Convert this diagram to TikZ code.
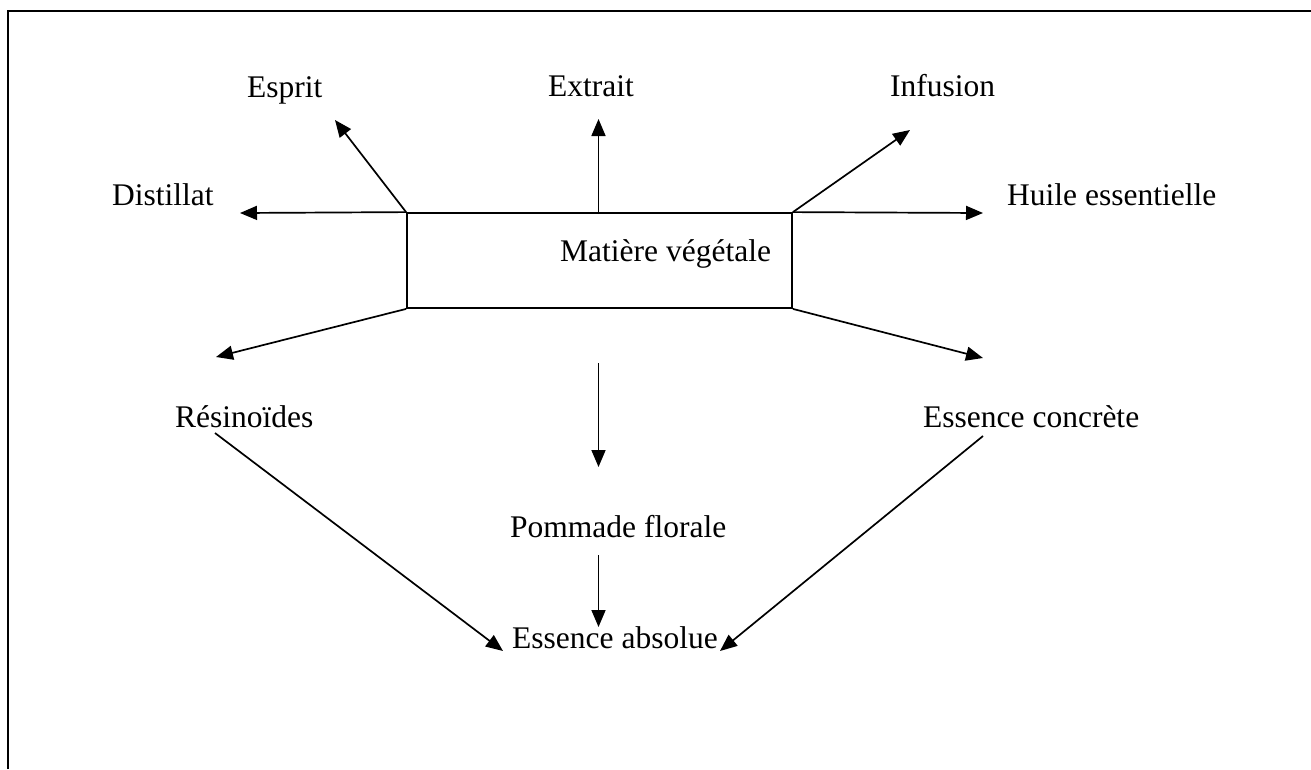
\documentclass[tikz,border=0pt]{standalone}
\usepackage{fontspec}
\setmainfont{Liberation Serif}
\usetikzlibrary{arrows.meta}
\begin{document}
\begin{tikzpicture}[x=1pt,y=-1pt,
  lbl/.style={anchor=base west,inner sep=0pt,font=\fontsize{31.5}{36}\selectfont},
  conn/.style={line width=1.7pt,-{Triangle[length=17pt,width=14pt]}},
  boxline/.style={line width=1.8pt}]
\useasboundingbox (0,0) rectangle (1311,769);
% frame
\draw[line width=2.6pt] (8,769) -- (8,11) -- (1311,11);
% central box
\node[boxline,draw,minimum width=385pt,minimum height=95pt,inner sep=0pt] (mat) at (599.5,260.5) {};
\node[lbl] (matlbl) at (560,261) {Matière végétale};
% labels
\node[lbl] (dist) at (112,205) {Distillat};
\node[lbl] (esp) at (247,97) {Esprit};
\node[lbl] (ext) at (548,96) {Extrait};
\node[lbl] (inf) at (890,96) {Infusion};
\node[lbl] (huile) at (1007,205) {Huile essentielle};
\node[lbl] (res) at (175,427) {Résinoïdes};
\node[lbl] (conc) at (923,427) {Essence concrète};
\node[lbl] (pom) at (510,537) {Pommade florale};
\node[lbl] (abs) at (512,648) {Essence absolue};
% coordinates
\coordinate (mtop) at (598.5,214);
\coordinate (tdist) at (240,213);
\coordinate (tesp) at (335,120);
\coordinate (text) at (598.5,119);
\coordinate (tinf) at (910,130);
\coordinate (thuile) at (983,213);
\coordinate (tres) at (216,357);
\coordinate (tconc) at (983,358);
\coordinate (spom) at (598.5,363);
\coordinate (tpom) at (598.5,467);
\coordinate (sabs) at (598.5,555);
\coordinate (tabs) at (598.5,627);
\coordinate (sres) at (215,433);
\coordinate (tabsl) at (503,651);
\coordinate (sconc) at (983,436);
\coordinate (tabsr) at (720,651);
% connectors
\draw[conn] (mat.north west) -- (tdist);
\draw[conn] (mat.north west) -- (tesp);
\draw[conn] (mtop) -- (text);
\draw[conn] (mat.north east) -- (tinf);
\draw[conn] (mat.north east) -- (thuile);
\draw[conn] (mat.south west) -- (tres);
\draw[conn] (mat.south east) -- (tconc);
\draw[conn] (spom) -- (tpom);
\draw[conn] (sabs) -- (tabs);
\draw[conn] (sres) -- (tabsl);
\draw[conn] (sconc) -- (tabsr);
\end{tikzpicture}
\end{document}
